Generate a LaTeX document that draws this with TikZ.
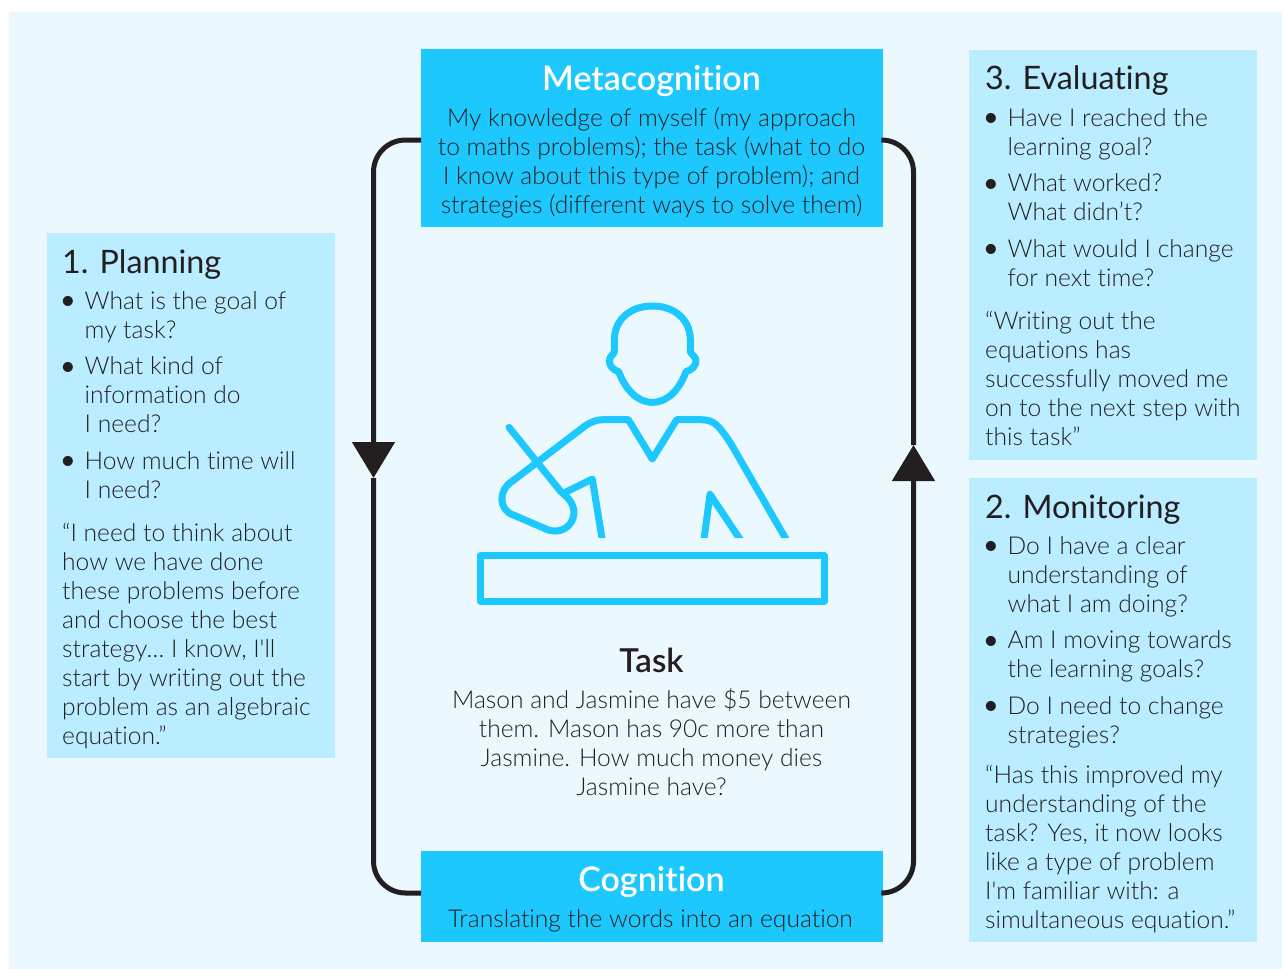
\documentclass[tikz,border=0pt]{standalone}
\usepackage{fontspec}
\setmainfont[Ligatures={TeX,NoCommon}]{Lato Light}
\newfontfamily\headfont[Ligatures={TeX,NoCommon}]{Lato Semibold}
\newfontfamily\regfont[Ligatures={TeX,NoCommon}]{Lato}
\usetikzlibrary{arrows.meta}
\definecolor{pagebg}{HTML}{EBF9FF}
\definecolor{panel}{HTML}{B9EDFF}
\definecolor{strong}{HTML}{1DC8FF}
\definecolor{ink}{HTML}{231F20}
\newcommand{\B}{\makebox[22.5pt][l]{\hspace*{-2pt}\raisebox{-0.5pt}{\regfont\fontsize{27}{29}\selectfont\textbullet}}}
\newcommand{\I}{\hspace*{22.5pt}}
\newcommand{\Q}{\textquotesingle}
\tikzset{
  panelbox/.style={fill=panel,draw=none,inner sep=0,anchor=north west},
  strongbox/.style={fill=strong,draw=none,inner sep=0,anchor=north west},
  body/.style={inner sep=0,anchor=north west,align=left,text=ink,font=\fontsize{24.6}{29}\selectfont},
  bodyc/.style={inner sep=0,anchor=north,align=center,text=ink,font=\fontsize{24.6}{29}\selectfont},
  heading/.style={inner sep=0,anchor=north west,text=ink,font=\regfont\fontsize{32.3}{36}\selectfont},
  whitehead/.style={inner sep=0,anchor=north,text=white,font=\headfont\fontsize{34}{36}\selectfont},
  flow/.style={draw=ink,line width=5pt,rounded corners=32pt},
  icon/.style={draw=strong,line width=7pt,line join=round},
  tip/.style={-{Triangle[width=42pt,length=36pt]}}
}
\begin{document}
\begin{tikzpicture}[x=1pt,y=-1pt]
\useasboundingbox (0,0) rectangle (1282,969);
\fill[white] (0,0) rectangle (1282,969);
\fill[pagebg] (9,12) rectangle (1282,969);

\node[strongbox,minimum width=462pt,minimum height=178pt] (meta) at (421,49) {};
\node[strongbox,minimum width=462pt,minimum height=91pt] (cog) at (421,851) {};
\coordinate (lt) at (373.5,478);
\coordinate (rt) at (913.5,445);
\draw[flow,tip] (meta.west |- 0,140) -- (373.5,140) -- (lt);
\draw[flow] (lt) -- (373.5,893) -- (cog.west |- 0,893);
\draw[flow,tip] (cog.east |- 0,893) -- (913.5,893) -- (rt);
\draw[flow] (rt) -- (913.5,140) -- (meta.east |- 0,140);

\node[panelbox,minimum width=288pt,minimum height=525pt] (plan) at (47,233) {};
\node[panelbox,minimum width=288pt,minimum height=410pt] (eval) at (969,50) {};
\node[panelbox,minimum width=288pt,minimum height=464pt] (moni) at (969,478) {};

\node[whitehead] (metat) at (651.5,65) {Metacognition};
\node[bodyc] (metab) at (651.5,108) {My knowledge of myself (my approach\\to maths problems); the task (what to do\\I know about this type of problem); and\\strategies (different ways to solve them)};
\node[whitehead] (cogt) at (651.5,866) {Cognition};
\node[bodyc] (cogb) at (650.5,909.5) {Translating the words into an equation};

\node[heading] (plant) at (62,250) {1. Planning};
\node[body] (planb) at (62,291) {\B What is the goal of\\\I my task?\\[7.5pt]\B What kind of\\\I information do\\\I I need?\\[7.5pt]\B How much time will\\\I I need?\\[14pt]“I need to think about\\how we have done\\these problems before\\and choose the best\\strategy… I know, I\Q ll\\start by writing out the\\problem as an algebraic\\equation.”};

\node[heading] (evalt) at (985,66) {3. Evaluating};
\node[body] (evalb) at (985,108) {\B Have I reached the\\\I learning goal?\\[7.5pt]\B What worked?\\\I What didn’t?\\[7.5pt]\B What would I change\\\I for next time?\\[14pt]“Writing out the\\equations has\\successfully moved me\\on to the next step with\\this task”};

\node[heading] (monit) at (985,495) {2. Monitoring};
\node[body] (monib) at (985,536) {\B Do I have a clear\\\I understanding of\\\I what I am doing?\\[7.5pt]\B Am I moving towards\\\I the learning goals?\\[7.5pt]\B Do I need to change\\\I strategies?\\[11pt]“Has this improved my\\understanding of the\\task? Yes, it now looks\\like a type of problem\\I\Q m familiar with: a\\simultaneous equation.”};

\node[inner sep=0,anchor=north,text=ink,font=\headfont\fontsize{33}{36}\selectfont] (taskt) at (651.5,648) {Task};
\node[bodyc] (taskb) at (651.5,688.5) {Mason and Jasmine have \$5 between\\them. Mason has 90c more than\\Jasmine. How much money dies\\Jasmine have?};

\begin{scope}[shift={(460,290)},x=0.33333pt,y=-0.33333pt]
\draw[icon] (463,185) -- (463,150) .. controls (463,90) and (510,48) .. (577,48) .. controls (645,48) and (691,90) .. (691,150) -- (691,185) .. controls (695,195) and (708,200) .. (708,213) .. controls (708,228) and (695,240) .. (678,245) .. controls (660,295) and (625,337) .. (577,337) .. controls (530,337) and (495,295) .. (476,245) .. controls (460,240) and (448,228) .. (448,213) .. controls (448,200) and (460,195) .. (463,185) -- cycle;
\begin{scope}
\clip (0,0) rectangle (1170,741);
\draw[icon] (991,770) -- (812,460) .. controls (772,400) and (760,389) .. (720,389) -- (650,389) -- (577,507) -- (505,389) -- (430,389) .. controls (410,389) and (395,395) .. (375,408) -- (155,575) .. controls (115,600) and (115,660) .. (160,675) -- (265,720) .. controls (330,740) and (375,660) .. (310,612);
\draw[icon] (430,770) -- (397,567) -- (310,610);
\draw[icon] (729,770) -- (750,613) -- (855,770);
\end{scope}
\draw[icon,line cap=round] (147,412) -- (305,608);
\draw[icon] (60,797) rectangle (1093,933);
\end{scope}
\end{tikzpicture}
\end{document}
